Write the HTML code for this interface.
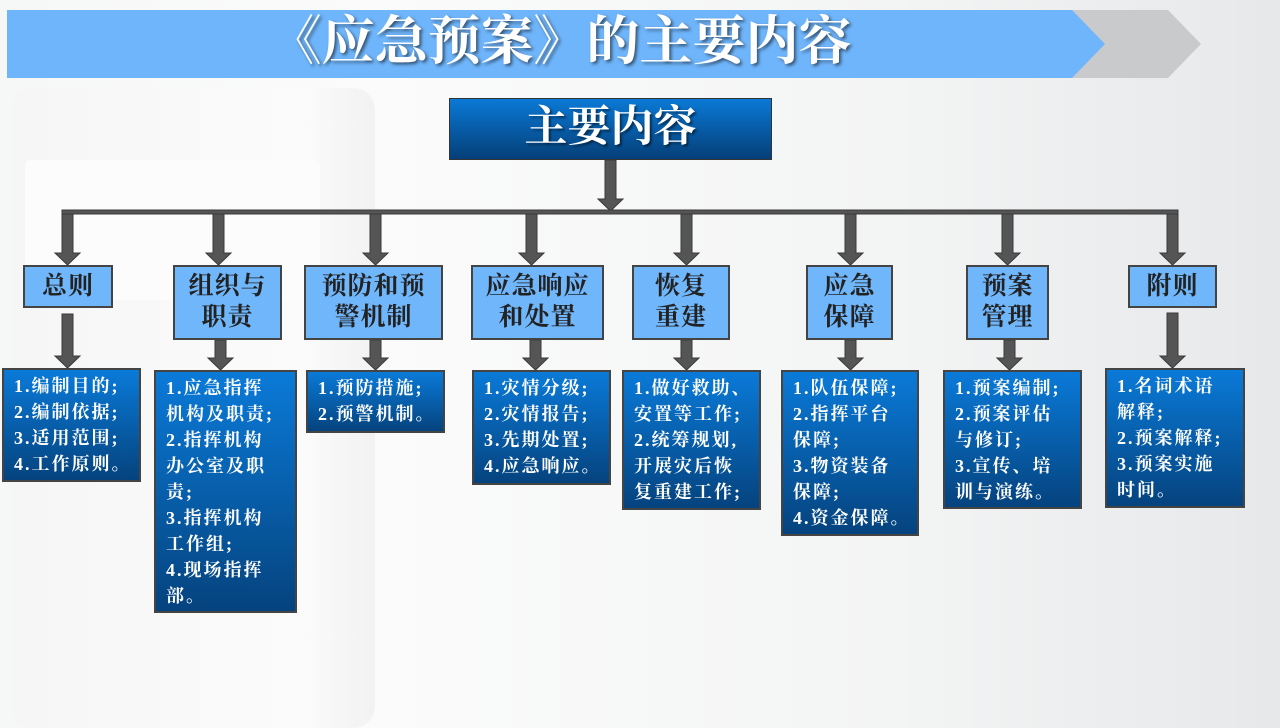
<!DOCTYPE html>
<html><head><meta charset="utf-8">
<style>
*{margin:0;padding:0;box-sizing:border-box}
body{width:1280px;height:720px;overflow:hidden;position:relative;
background:linear-gradient(90deg,#f6f7f7 0%,#fbfbfb 30%,#f3f4f4 70%,#e7e8ea 100%);
font-family:"Liberation Sans","Noto Sans CJK SC",sans-serif}
.bg1{position:absolute;left:10px;top:88px;width:365px;height:640px;border-radius:22px;background:linear-gradient(90deg,#f6f6f6,#fbfbfb 80%,#f2f2f2);}
.bg2{position:absolute;left:25px;top:160px;width:295px;height:140px;border-radius:6px;background:#fcfcfc}
.title{position:absolute;left:230px;top:5px;width:660px;text-align:center;font-family:"Liberation Serif","Noto Serif CJK SC",serif;font-weight:bold;font-size:53px;color:#fff;text-shadow:2px 2px 3px rgba(0,0,0,.55);line-height:74px}
.main{position:absolute;left:449px;top:98px;width:323px;height:62px;background:linear-gradient(#0a79d6,#053f78);border:1px solid #333;color:#fff;font-family:"Liberation Serif","Noto Serif CJK SC",serif;font-weight:bold;font-size:43px;text-align:center;line-height:58px;text-shadow:2px 2px 2px rgba(0,0,0,.5)}
.cat{position:absolute;top:265px;background:#70b6fb;border:2px solid #444;color:#222;font-family:"Liberation Serif","Noto Serif CJK SC",serif;font-weight:bold;font-size:25px;line-height:31px;text-align:center;padding-top:4px;letter-spacing:1px}
.det{position:absolute;top:370px;background:linear-gradient(#0a7ad8,#05437e);border:2px solid #444;color:#fff;font-family:"Liberation Serif","Noto Serif CJK SC",serif;font-weight:bold;font-size:18px;letter-spacing:2px;line-height:26px;padding:3px 0 0 10px;white-space:nowrap;overflow:hidden}
svg{position:absolute;left:0;top:0}
</style></head><body>
<div class="bg1"></div><div class="bg2"></div>
<svg width="1280" height="720">
<polygon points="1072,10 1168,10 1201,44 1168,78 1072,78" fill="#c9cacc"/>
<polygon points="7,10 1072,10 1105,44 1072,78 7,78" fill="#6fb5fb"/>
<g fill="#555" stroke="#3a3a3a" stroke-width="1">
<polygon points="605,160 616,160 616,199 623,199 610.5,211 598,199 605,199"/>
<rect x="62" y="210" width="1116" height="4"/>
<polygon points="62,214 73,214 73,253 80,253 67.5,265 55,253 62,253"/>
<polygon points="213,214 224,214 224,253 231,253 218.5,265 206,253 213,253"/>
<polygon points="370,214 381,214 381,253 388,253 375.5,265 363,253 370,253"/>
<polygon points="526,214 537,214 537,253 544,253 531.5,265 519,253 526,253"/>
<polygon points="681,214 692,214 692,253 699,253 686.5,265 674,253 681,253"/>
<polygon points="845,214 856,214 856,253 863,253 850.5,265 838,253 845,253"/>
<polygon points="1002,214 1013,214 1013,253 1020,253 1007.5,265 995,253 1002,253"/>
<polygon points="1167,214 1178,214 1178,253 1185,253 1172.5,265 1160,253 1167,253"/>
<polygon points="62,314 73,314 73,356 80,356 67.5,368 55,356 62,356"/>
<polygon points="215,340 226,340 226,358 233,358 220.5,370 208,358 215,358"/>
<polygon points="370,340 381,340 381,358 388,358 375.5,370 363,358 370,358"/>
<polygon points="530,340 541,340 541,358 548,358 535.5,370 523,358 530,358"/>
<polygon points="681,340 692,340 692,358 699,358 686.5,370 674,358 681,358"/>
<polygon points="845,340 856,340 856,358 863,358 850.5,370 838,358 845,358"/>
<polygon points="1004,340 1015,340 1015,358 1022,358 1009.5,370 997,358 1004,358"/>
<polygon points="1167,313 1178,313 1178,356 1185,356 1172.5,368 1160,356 1167,356"/>
</g>
</svg>
<div class="title">《应急预案》的主要内容</div>
<div class="main">主要内容</div>
<div class="cat" style="left:23px;width:90px;height:43px">总则</div>
<div class="cat" style="left:173px;width:109px;height:75px">组织与<br>职责</div>
<div class="cat" style="left:304px;width:139px;height:75px">预防和预<br>警机制</div>
<div class="cat" style="left:471px;width:133px;height:75px">应急响应<br>和处置</div>
<div class="cat" style="left:632px;width:98px;height:75px">恢复<br>重建</div>
<div class="cat" style="left:806px;width:87px;height:75px">应急<br>保障</div>
<div class="cat" style="left:966px;width:83px;height:75px">预案<br>管理</div>
<div class="cat" style="left:1128px;width:89px;height:43px">附则</div>
<div class="det" style="left:2px;top:368px;width:139px;height:114px">1.编制目的;<br>2.编制依据;<br>3.适用范围;<br>4.工作原则。</div>
<div class="det" style="left:154px;width:143px;height:243px">1.应急指挥<br>机构及职责;<br>2.指挥机构<br>办公室及职<br>责;<br>3.指挥机构<br>工作组;<br>4.现场指挥<br>部。</div>
<div class="det" style="left:306px;width:139px;height:63px">1.预防措施;<br>2.预警机制。</div>
<div class="det" style="left:472px;width:139px;height:115px">1.灾情分级;<br>2.灾情报告;<br>3.先期处置;<br>4.应急响应。</div>
<div class="det" style="left:622px;width:139px;height:140px">1.做好救助、<br>安置等工作;<br>2.统筹规划,<br>开展灾后恢<br>复重建工作;</div>
<div class="det" style="left:781px;width:138px;height:166px">1.队伍保障;<br>2.指挥平台<br>保障;<br>3.物资装备<br>保障;<br>4.资金保障。</div>
<div class="det" style="left:943px;width:139px;height:139px">1.预案编制;<br>2.预案评估<br>与修订;<br>3.宣传、培<br>训与演练。</div>
<div class="det" style="left:1105px;top:368px;width:140px;height:140px">1.名词术语<br>解释;<br>2.预案解释;<br>3.预案实施<br>时间。</div>
</body></html>
